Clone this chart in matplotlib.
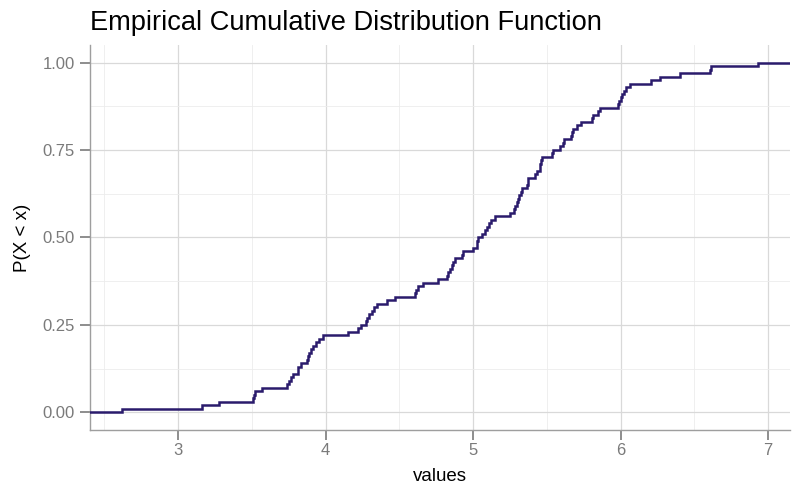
import numpy as np
import matplotlib
matplotlib.use("Agg")
import matplotlib.pyplot as plt
from matplotlib.ticker import MultipleLocator, FixedLocator

values = [
    2.619, 3.165, 3.276, 3.508, 3.515, 3.525, 3.571, 3.736, 3.752, 3.766,
    3.779, 3.810, 3.816, 3.831, 3.872, 3.883, 3.891, 3.899, 3.917, 3.935,
    3.955, 3.984, 4.154, 4.222, 4.238, 4.274, 4.284, 4.296, 4.312, 4.328,
    4.350, 4.419, 4.470, 4.606, 4.616, 4.628, 4.662, 4.764, 4.820, 4.833,
    4.846, 4.856, 4.867, 4.877, 4.924, 4.933, 5.001, 5.024, 5.029, 5.035,
    5.058, 5.083, 5.091, 5.110, 5.119, 5.148, 5.249, 5.276, 5.283, 5.297,
    5.307, 5.312, 5.322, 5.329, 5.368, 5.371, 5.375, 5.422, 5.432, 5.453,
    5.456, 5.459, 5.464, 5.534, 5.541, 5.588, 5.608, 5.615, 5.663, 5.673,
    5.680, 5.705, 5.728, 5.805, 5.812, 5.848, 5.859, 5.983, 5.991, 6.001,
    6.012, 6.025, 6.039, 6.062, 6.209, 6.266, 6.401, 6.604, 6.611, 6.932,
]
x_ticks = [3, 4, 5, 6, 7]
y_ticks = [0.0, 0.25, 0.5, 0.75, 1.0]
y_tick_labels = ["0.00", "0.25", "0.50", "0.75", "1.00"]

title = "Empirical Cumulative Distribution Function"
x_label = "values"
y_label = "P(X < x)"

plt.rcParams['font.family'] = ['Liberation Sans', 'DejaVu Sans']

fig = plt.figure(figsize=(7.99, 4.94), dpi=100)
ax = fig.add_axes([0.1126, 0.1296, 0.9887 - 0.1126, 0.9089 - 0.1296])

v = np.sort(np.asarray(values))
n = len(v)
rng = v.max() - v.min()
xlo, xhi = v.min() - 0.05 * rng, v.max() + 0.05 * rng
ax.set_xlim(xlo, xhi)
ax.set_ylim(-0.05, 1.05)

xs = np.concatenate([[xlo], v, [xhi]])
ys = np.concatenate([[0.0], np.arange(1, n + 1) / n, [1.0]])
ax.step(xs, ys, where='post', color='#2a1b6c', lw=1.8, zorder=3,
        solid_joinstyle='miter')

ax.xaxis.set_major_locator(FixedLocator(x_ticks))
ax.xaxis.set_minor_locator(MultipleLocator(0.5))
ax.yaxis.set_major_locator(FixedLocator(y_ticks))
ax.yaxis.set_minor_locator(MultipleLocator(0.125))
ax.set_yticklabels(y_tick_labels)

ax.grid(which='major', color='#d9d9d9', lw=0.9)
ax.grid(which='minor', color='#ececec', lw=0.6)
ax.set_axisbelow(True)

for s in ['top', 'right']:
    ax.spines[s].set_visible(False)
for s in ['left', 'bottom']:
    ax.spines[s].set_color('#9e9e9e')
    ax.spines[s].set_linewidth(1.0)

ax.tick_params(which='major', length=7.5, width=1.3, color='#858585',
               labelcolor='#7a7a7a', labelsize=12)
ax.tick_params(axis='x', which='major', pad=2.2)
ax.tick_params(axis='y', which='major', pad=3.3)
ax.tick_params(which='minor', length=0)

ax.set_xlabel(x_label, fontsize=13.5, color='black', labelpad=7)
ax.set_ylabel(y_label, fontsize=13.5, color='black', labelpad=8.5)
ax.set_title(title, fontsize=19.6, loc='left', x=0.0, pad=11, color='black')

fig.savefig("out.png", dpi=100, facecolor='white')
